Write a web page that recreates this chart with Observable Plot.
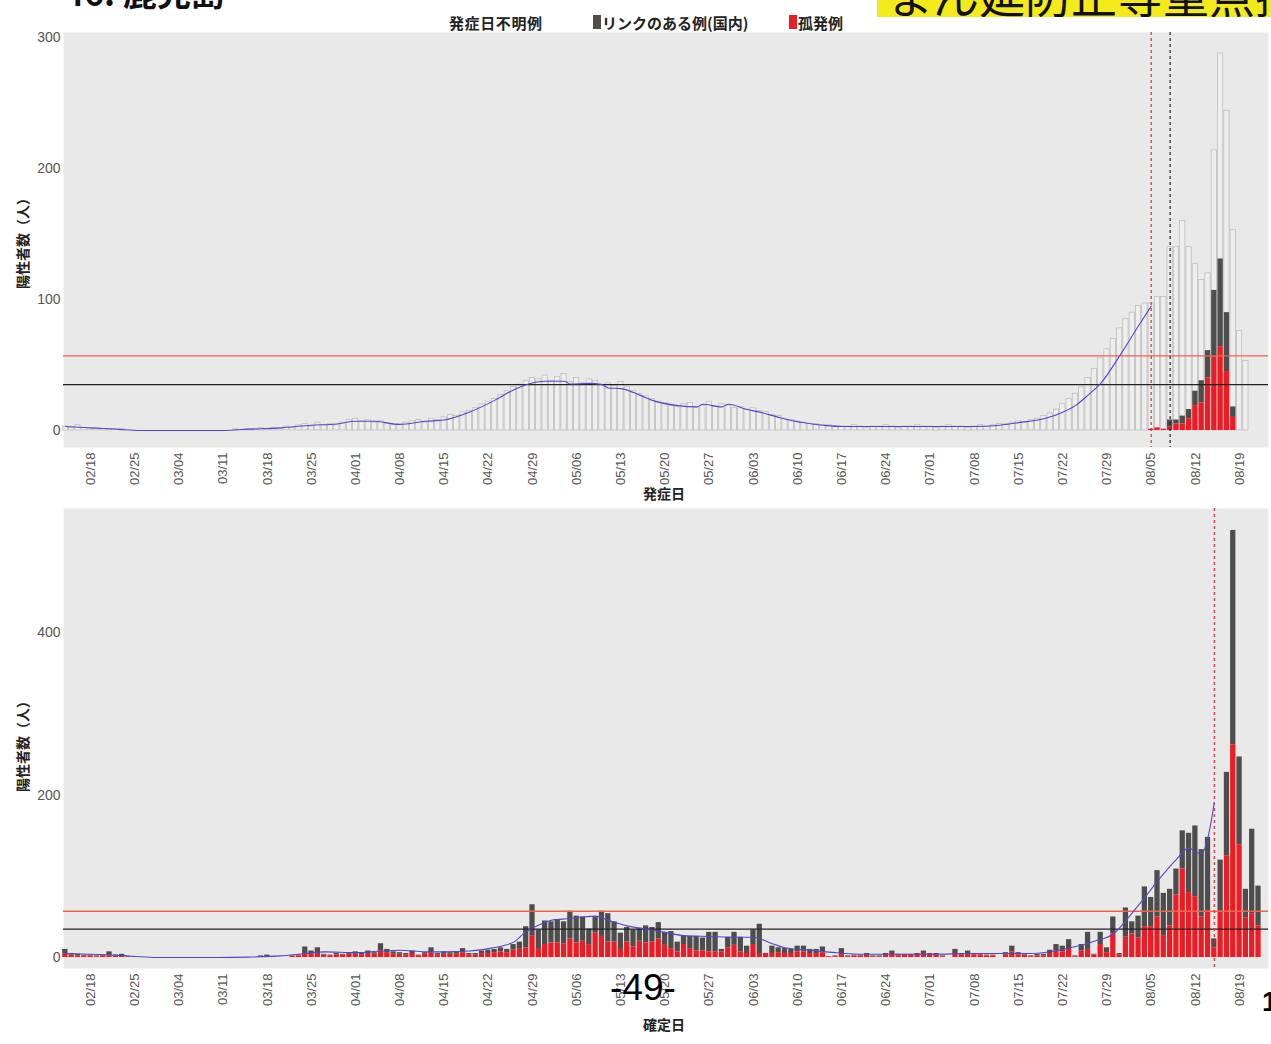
<!DOCTYPE html>
<html><head><meta charset="utf-8">
<script src="https://cdn.jsdelivr.net/npm/d3@7"></script>
<script src="https://cdn.jsdelivr.net/npm/@observablehq/plot@0.6"></script>
<style>
body{margin:0;background:#fff;width:1271px;height:1044px;overflow:hidden;position:relative;font-family:"Liberation Sans","Noto Sans CJK JP",sans-serif;}
.abs{position:absolute;white-space:nowrap;}
.ctr{transform:translate(-50%,-50%);}
.jp{font-family:"Noto Sans CJK JP",sans-serif;}
</style></head><body>
<div class="abs jp" style="left:64px;top:-33px;font-size:34px;font-weight:bold;color:#111;">46. 鹿児島</div>
<div class="abs" style="left:877px;top:0;width:394px;height:17px;background:#f3ea1b;overflow:hidden;">
  <div class="abs jp" style="left:10px;top:-40px;font-size:46px;color:#111;">まん延防止等重点措置</div>
</div>
<div class="abs jp" style="left:449px;top:12px;font-size:15px;font-weight:bold;color:#222;letter-spacing:0.6px;">発症日不明例</div>
<div class="abs" style="left:593px;top:15px;width:8px;height:14px;background:#4d4d4d;"></div>
<div class="abs jp" style="left:602px;top:12px;font-size:15px;font-weight:bold;color:#222;">リンクのある例(国内)</div>
<div class="abs" style="left:789px;top:15px;width:8px;height:14px;background:#ec1c24;"></div>
<div class="abs jp" style="left:798px;top:12px;font-size:15px;font-weight:bold;color:#222;">孤発例</div>

<div id="top" class="abs" style="left:0;top:30px"></div>
<div id="bottom" class="abs" style="left:0;top:500px"></div>

<div class="abs jp ctr" style="left:22px;top:240px;transform:translate(-50%,-50%) rotate(-90deg);font-size:14px;font-weight:bold;color:#222;">陽性者数（人）</div>
<div class="abs jp ctr" style="left:22px;top:743px;transform:translate(-50%,-50%) rotate(-90deg);font-size:14px;font-weight:bold;color:#222;">陽性者数（人）</div>
<div class="abs jp ctr" style="left:664px;top:493px;font-size:14px;font-weight:bold;color:#222;">発症日</div>
<div class="abs jp ctr" style="left:664px;top:1024px;font-size:14px;font-weight:bold;color:#222;">確定日</div>
<div class="abs ctr" style="left:643px;top:988px;font-size:37px;color:#000;font-family:'Liberation Sans';">-49-</div>
<div class="abs" style="left:1262px;top:986px;font-size:28px;font-weight:bold;color:#000;">1</div>

<script>
// ---- categories ----
const firstDay = new Date(Date.UTC(2021, 1, 14));
const lastDay = new Date(Date.UTC(2021, 7, 23));
const tickLabels = ["02/18","02/25","03/04","03/11","03/18","03/25","04/01","04/08","04/15","04/22","04/29","05/06","05/13","05/20","05/27","06/03","06/10","06/17","06/24","07/01","07/08","07/15","07/22","07/29","08/05","08/12","08/19"];

// ---- top panel: onset-date counts (light grey), 02/14 .. 08/22 ----
const onsetAll = [
  3,2,4,2,1,2,1,1,0,1,0,0,0,0,0,
  0,0,0,0,0,0,0,0,0,0,0,0,1,0,1,1,2,1,2,1,3,2,4,5,3,6,4,5,4,6,8,
  9,7,8,6,7,5,4,5,6,7,8,6,9,8,10,12,11,14,15,17,20,22,24,27,30,33,35,38,40,39,
  42,38,41,43,37,40,36,39,38,35,36,34,37,33,30,28,26,24,22,21,19,18,20,21,17,19,22,18,20,19,17,
  18,16,17,15,14,12,11,9,8,7,6,5,5,4,4,3,3,3,4,3,2,3,3,4,3,2,3,3,4,3,
  3,2,3,4,3,3,2,3,4,3,4,5,5,6,7,6,8,9,11,13,16,20,24,28,33,40,47,55,62,70,78,
  85,90,95,97,97,102,102,140,140,160,140,127,115,120,214,288,244,153,76,53,0,0
];
// top panel: stacked recent onset counts
const onsetStackDates = ["08/05","08/06","08/07","08/08","08/09","08/10","08/11","08/12","08/13","08/14","08/15","08/16","08/17","08/18"];
const onsetTotal    = [1,2,1,8,8,11,16,30,38,61,107,131,90,18];
const onsetIsolated = [1,2,1,3,5,5,9,19,21,40,56,64,45,10];
// top panel moving average
const onsetAvgDates  = ["02/14","02/18","02/22","02/26","03/04","03/11","03/15","03/20","03/25","03/29","04/01","04/04","04/08","04/12","04/15","04/19","04/23","04/26","04/28","05/01","05/04","05/05","05/08","05/10","05/11","05/13","05/16","05/18","05/22","05/25","05/26","05/29","05/30","06/02","06/04","06/07","06/09","06/14","06/17","06/24","07/01","07/08","07/12","07/15","07/19","07/22","07/24","07/26","07/28","07/31","08/03","08/05"];
const onsetAvgValues = [3,2,1,0,0,0,1,2,4,5,7,7,4.6,7,8,14,23,31,35,37.6,37.6,35.5,36,35,32.5,32,27,23,19,18,20,18,20,16,14,10,7.6,4,3,3,3,3,4,6,9,14,19,27,36,57,80,95];

// ---- bottom panel: confirmed-date counts, 02/14 .. 08/22 ----
const confirmedTotal = [
  10,5,4,3,3,2,3,7,3,4,1,1,0,0,0,
  0,0,0,0,0,0,0,0,0,0,0,0,0,0,0,0,2,3,1,0,0,2,3,13,8,12,4,3,5,4,6,
  7,5,8,6,17,10,7,6,5,8,3,6,12,5,7,6,7,11,5,5,8,9,10,12,10,16,19,38,65,34,
  45,44,46,44,57,51,50,35,50,57,54,44,30,37,34,36,39,37,43,31,32,19,26,26,26,24,31,31,10,25,31,
  25,14,34,41,5,14,12,11,10,14,14,10,10,13,1,2,11,2,3,3,5,2,2,5,8,4,4,4,5,8,
  5,5,2,0,10,5,8,5,5,3,3,0,6,14,6,5,2,4,4,9,16,14,22,2,16,31,4,31,12,50,5,
  61,44,51,87,74,107,79,84,109,156,153,162,133,148,23,120,228,526,247,84,158,88
];
const confirmedIsolated = [
  4,3,2,2,2,1,2,2,2,2,1,0,0,0,0,
  0,0,0,0,0,0,0,0,0,0,0,0,0,0,0,0,1,1,1,0,0,2,2,5,4,5,3,2,3,3,4,
  4,3,5,4,8,6,4,4,3,5,2,4,6,3,4,4,4,6,3,3,5,5,6,7,6,9,11,12,27,10,
  16,18,18,17,23,18,20,15,30,26,19,19,10,19,13,20,18,19,23,15,11,7,16,11,8,8,7,7,7,12,15,
  7,5,16,5,5,5,6,5,5,7,7,5,5,6,1,1,5,1,2,2,3,1,1,3,5,2,3,3,3,5,
  3,3,1,0,5,3,5,3,3,2,2,0,3,7,3,3,1,2,2,5,8,7,10,1,8,10,3,16,6,29,3,
  25,29,24,38,38,50,27,39,77,109,80,75,50,58,12,57,125,262,139,49,54,39
];
const confirmedAvgDates  = ["02/14","02/18","02/22","02/26","03/01","03/10","03/15","03/20","03/24","03/27","04/01","04/05","04/08","04/12","04/15","04/19","04/22","04/24","04/26","04/28","04/30","05/02","05/05","05/07","05/09","05/11","05/14","05/17","05/20","05/23","05/27","05/31","06/03","06/06","06/08","06/12","06/16","06/21","06/25","07/01","07/08","07/13","07/17","07/22","07/27","07/30","08/02","08/04","08/06","08/09","08/11","08/12","08/13","08/14","08/15"];
const confirmedAvgValues = [5,4,3,1,0,0,0.5,2,5,7,6,8,9,7,7,8,11,14,19,32,40,46,48,50,51,46,39,35,31,27,26,25,25,17,12,9,6,4,4,4,5,5,5,10,20,29,55,74,94,121,135,130,128,148,191];

// reference lines
const upperLevel = 57, lowerLevel = 35;
const onsetMarkers = [{d:"08/05", c:"#e8262a"}, {d:"08/08", c:"#222"}];
const confirmedMarkers = [{d:"08/15", c:"#e8262a"}];

// ---- build ----
const md = s => { const [m, d] = s.split("/").map(Number); return new Date(Date.UTC(2021, m - 1, d)); };
const days = d3.utcDay.range(firstDay, lastDay);
const xDomain = [new Date(Date.UTC(2021,1,13,17)), new Date(Date.UTC(2021,7,23,14))];
const xTicks = tickLabels.map(md);
const lo = d => d3.utcHour.offset(d, -10), hi = d => d3.utcHour.offset(d, 10);

const topGrey = days.map((d,i)=>({date:d, v:onsetAll[i]})).filter(o=>o.v>0);
const topStack = onsetStackDates.map((s,i)=>({date:md(s), total:onsetTotal[i], iso:onsetIsolated[i]}));
const topAvg = onsetAvgDates.map((s,i)=>({date:md(s), v:onsetAvgValues[i]}));
const bot = days.map((d,i)=>({date:d, total:confirmedTotal[i], iso:confirmedIsolated[i]})).filter(o=>o.total>0);
const botAvg = confirmedAvgDates.map((s,i)=>({date:md(s), v:confirmedAvgValues[i]}));

const fontFam = "'Liberation Sans','Noto Sans CJK JP',sans-serif";
const common = (yTicks) => [
  Plot.axisY({ticks:yTicks, tickSize:0, tickPadding:3, label:null, fontSize:14, color:"#555"}),
  Plot.axisX({ticks:xTicks, tickFormat:d3.utcFormat("%m/%d"), tickRotate:-90, tickSize:0, tickPadding:5, label:null, fontSize:13, color:"#555"})
];

const topPlot = Plot.plot({
  width:1271, height:475, marginLeft:63, marginRight:3, marginTop:2, marginBottom:58,
  style:{background:"transparent", fontFamily:fontFam, overflow:"visible"},
  x:{type:"utc", domain:xDomain},
  y:{domain:[-13,304]},
  marks:[
    Plot.frame({fill:"#e9e9ea", stroke:"none"}),
    Plot.rect(topGrey, {x1:d=>lo(d.date), x2:d=>hi(d.date), y1:0, y2:"v", fill:"#eeeeee", stroke:"#b8b8b8", strokeWidth:0.7}),
    Plot.rect(topStack, {x1:d=>lo(d.date), x2:d=>hi(d.date), y1:"iso", y2:"total", fill:"#4d4d4d"}),
    Plot.rect(topStack, {x1:d=>lo(d.date), x2:d=>hi(d.date), y1:0, y2:"iso", fill:"#ec1c24"}),
    Plot.ruleY([upperLevel], {stroke:"#f0644a", strokeWidth:1.3}),
    Plot.ruleY([lowerLevel], {stroke:"#222", strokeWidth:1.3}),
    Plot.ruleX(onsetMarkers, {x:d=>md(d.d), stroke:"c", strokeDasharray:"3,3", strokeWidth:1.2}),
    Plot.line(topAvg, {x:"date", y:"v", stroke:"#5546c8", strokeWidth:1.1, curve:"monotone-x"}),
    ...common([0,100,200,300])
  ]
});
document.getElementById("top").append(topPlot);

const botPlot = Plot.plot({
  width:1271, height:540, marginLeft:63, marginRight:3, marginTop:8, marginBottom:72,
  style:{background:"transparent", fontFamily:fontFam, overflow:"visible"},
  x:{type:"utc", domain:xDomain},
  y:{domain:[-13.5,553]},
  marks:[
    Plot.frame({fill:"#e9e9ea", stroke:"none"}),
    Plot.rect(bot, {x1:d=>lo(d.date), x2:d=>hi(d.date), y1:"iso", y2:"total", fill:"#4d4d4d"}),
    Plot.rect(bot, {x1:d=>lo(d.date), x2:d=>hi(d.date), y1:0, y2:"iso", fill:"#ec1c24"}),
    Plot.ruleY([upperLevel], {stroke:"#f0644a", strokeWidth:1.3}),
    Plot.ruleY([lowerLevel], {stroke:"#222", strokeWidth:1.3}),
    Plot.ruleX(confirmedMarkers, {x:d=>md(d.d), stroke:"c", strokeDasharray:"3,3", strokeWidth:1.2}),
    Plot.line(botAvg, {x:"date", y:"v", stroke:"#5546c8", strokeWidth:1.1, curve:"monotone-x"}),
    ...common([0,200,400])
  ]
});
document.getElementById("bottom").append(botPlot);
</script>
</body></html>
